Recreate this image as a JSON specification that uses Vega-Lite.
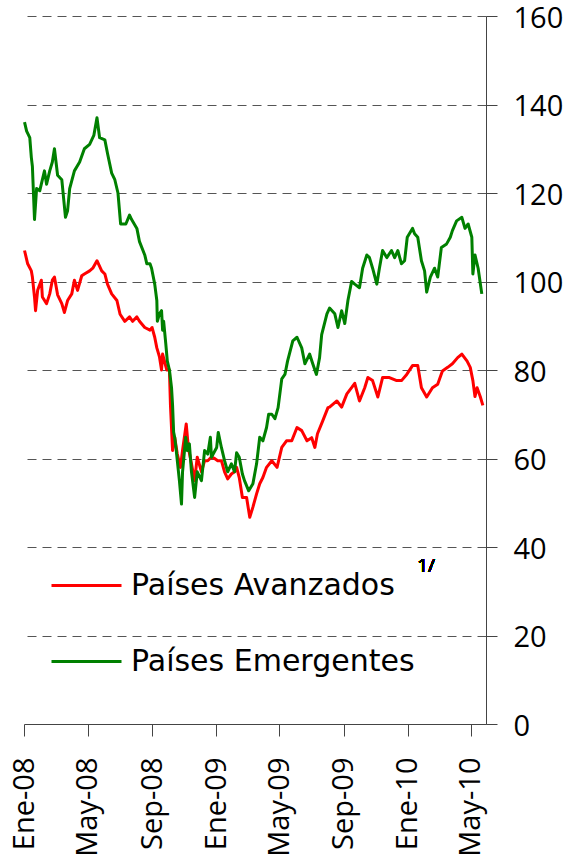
{
  "$schema": "https://vega.github.io/schema/vega-lite/v6.json",
  "autosize": "none",
  "width": 462,
  "height": 708,
  "padding": {"left": 24, "top": 16, "right": 84, "bottom": 139},
  "background": "white",
  "config": {"view": {"stroke": null}, "font": "Open Sans"},
  "data": {"values": [
    {"d":"2008-01-02","s":"Países Avanzados","v":107},
    {"d":"2008-01-08","s":"Países Avanzados","v":104},
    {"d":"2008-01-15","s":"Países Avanzados","v":102.4},
    {"d":"2008-01-17","s":"Países Avanzados","v":101},
    {"d":"2008-01-21","s":"Países Avanzados","v":96.5},
    {"d":"2008-01-23","s":"Países Avanzados","v":93.4},
    {"d":"2008-01-27","s":"Países Avanzados","v":98},
    {"d":"2008-02-03","s":"Países Avanzados","v":100.3},
    {"d":"2008-02-05","s":"Países Avanzados","v":96.5},
    {"d":"2008-02-13","s":"Países Avanzados","v":95},
    {"d":"2008-02-19","s":"Países Avanzados","v":97.2},
    {"d":"2008-02-24","s":"Países Avanzados","v":100.3},
    {"d":"2008-02-28","s":"Países Avanzados","v":101},
    {"d":"2008-03-05","s":"Países Avanzados","v":97},
    {"d":"2008-03-13","s":"Países Avanzados","v":95},
    {"d":"2008-03-18","s":"Países Avanzados","v":93},
    {"d":"2008-03-24","s":"Países Avanzados","v":95.7},
    {"d":"2008-04-01","s":"Países Avanzados","v":97.2},
    {"d":"2008-04-06","s":"Países Avanzados","v":100.3},
    {"d":"2008-04-12","s":"Países Avanzados","v":98},
    {"d":"2008-04-20","s":"Países Avanzados","v":101.3},
    {"d":"2008-04-25","s":"Países Avanzados","v":101.7},
    {"d":"2008-05-05","s":"Países Avanzados","v":102.4},
    {"d":"2008-05-11","s":"Países Avanzados","v":103},
    {"d":"2008-05-19","s":"Países Avanzados","v":104.7},
    {"d":"2008-05-28","s":"Países Avanzados","v":102.4},
    {"d":"2008-06-03","s":"Países Avanzados","v":101.7},
    {"d":"2008-06-08","s":"Países Avanzados","v":99.4},
    {"d":"2008-06-16","s":"Países Avanzados","v":97.2},
    {"d":"2008-06-26","s":"Países Avanzados","v":95.7},
    {"d":"2008-07-02","s":"Países Avanzados","v":92.6},
    {"d":"2008-07-11","s":"Países Avanzados","v":91},
    {"d":"2008-07-20","s":"Países Avanzados","v":92},
    {"d":"2008-07-26","s":"Países Avanzados","v":91},
    {"d":"2008-08-03","s":"Países Avanzados","v":92},
    {"d":"2008-08-08","s":"Países Avanzados","v":91},
    {"d":"2008-08-18","s":"Países Avanzados","v":89.6},
    {"d":"2008-08-28","s":"Países Avanzados","v":89},
    {"d":"2008-09-01","s":"Países Avanzados","v":89.6},
    {"d":"2008-09-06","s":"Países Avanzados","v":87.4},
    {"d":"2008-09-10","s":"Países Avanzados","v":85},
    {"d":"2008-09-15","s":"Países Avanzados","v":83},
    {"d":"2008-09-19","s":"Países Avanzados","v":80},
    {"d":"2008-09-21","s":"Países Avanzados","v":83.6},
    {"d":"2008-09-29","s":"Países Avanzados","v":80},
    {"d":"2008-10-04","s":"Países Avanzados","v":80},
    {"d":"2008-10-06","s":"Países Avanzados","v":72},
    {"d":"2008-10-10","s":"Países Avanzados","v":61.8},
    {"d":"2008-10-14","s":"Países Avanzados","v":64.8},
    {"d":"2008-10-19","s":"Países Avanzados","v":61},
    {"d":"2008-10-25","s":"Países Avanzados","v":58},
    {"d":"2008-10-29","s":"Países Avanzados","v":61.8},
    {"d":"2008-11-05","s":"Países Avanzados","v":67.8},
    {"d":"2008-11-09","s":"Países Avanzados","v":62.5},
    {"d":"2008-11-15","s":"Países Avanzados","v":58.8},
    {"d":"2008-11-21","s":"Países Avanzados","v":55},
    {"d":"2008-11-26","s":"Países Avanzados","v":60.3},
    {"d":"2008-12-04","s":"Países Avanzados","v":57},
    {"d":"2008-12-10","s":"Países Avanzados","v":59.5},
    {"d":"2008-12-16","s":"Países Avanzados","v":59.5},
    {"d":"2008-12-23","s":"Países Avanzados","v":60.3},
    {"d":"2008-12-29","s":"Países Avanzados","v":60},
    {"d":"2009-01-04","s":"Países Avanzados","v":59.5},
    {"d":"2009-01-11","s":"Países Avanzados","v":59.5},
    {"d":"2009-01-17","s":"Países Avanzados","v":57},
    {"d":"2009-01-23","s":"Países Avanzados","v":55.4},
    {"d":"2009-01-30","s":"Países Avanzados","v":56.5},
    {"d":"2009-02-05","s":"Países Avanzados","v":57},
    {"d":"2009-02-09","s":"Países Avanzados","v":58},
    {"d":"2009-02-14","s":"Países Avanzados","v":55.7},
    {"d":"2009-02-20","s":"Países Avanzados","v":51.2},
    {"d":"2009-02-28","s":"Países Avanzados","v":51.2},
    {"d":"2009-03-06","s":"Países Avanzados","v":46.7},
    {"d":"2009-03-12","s":"Países Avanzados","v":49},
    {"d":"2009-03-19","s":"Países Avanzados","v":52},
    {"d":"2009-03-25","s":"Países Avanzados","v":54.3},
    {"d":"2009-03-31","s":"Países Avanzados","v":55.7},
    {"d":"2009-04-07","s":"Países Avanzados","v":58},
    {"d":"2009-04-17","s":"Países Avanzados","v":59.5},
    {"d":"2009-04-27","s":"Países Avanzados","v":58},
    {"d":"2009-05-06","s":"Países Avanzados","v":62.5},
    {"d":"2009-05-15","s":"Países Avanzados","v":64},
    {"d":"2009-05-25","s":"Países Avanzados","v":64},
    {"d":"2009-06-04","s":"Países Avanzados","v":67},
    {"d":"2009-06-13","s":"Países Avanzados","v":66.3},
    {"d":"2009-06-23","s":"Países Avanzados","v":64},
    {"d":"2009-07-02","s":"Países Avanzados","v":64.7},
    {"d":"2009-07-08","s":"Países Avanzados","v":62.5},
    {"d":"2009-07-13","s":"Países Avanzados","v":65.6},
    {"d":"2009-07-23","s":"Países Avanzados","v":68.5},
    {"d":"2009-08-02","s":"Países Avanzados","v":71.5},
    {"d":"2009-08-05","s":"Países Avanzados","v":71.6},
    {"d":"2009-08-19","s":"Países Avanzados","v":73},
    {"d":"2009-08-28","s":"Países Avanzados","v":71.6},
    {"d":"2009-09-07","s":"Países Avanzados","v":74.6},
    {"d":"2009-09-16","s":"Países Avanzados","v":76},
    {"d":"2009-09-22","s":"Países Avanzados","v":77},
    {"d":"2009-10-01","s":"Países Avanzados","v":73},
    {"d":"2009-10-11","s":"Países Avanzados","v":76},
    {"d":"2009-10-17","s":"Países Avanzados","v":78.3},
    {"d":"2009-10-26","s":"Países Avanzados","v":77.6},
    {"d":"2009-11-05","s":"Países Avanzados","v":73.9},
    {"d":"2009-11-14","s":"Países Avanzados","v":78.3},
    {"d":"2009-11-27","s":"Países Avanzados","v":78.3},
    {"d":"2009-12-11","s":"Países Avanzados","v":77.6},
    {"d":"2009-12-20","s":"Países Avanzados","v":77.6},
    {"d":"2009-12-30","s":"Países Avanzados","v":79},
    {"d":"2010-01-10","s":"Países Avanzados","v":81},
    {"d":"2010-01-20","s":"Países Avanzados","v":81},
    {"d":"2010-01-27","s":"Países Avanzados","v":76},
    {"d":"2010-02-06","s":"Países Avanzados","v":73.9},
    {"d":"2010-02-17","s":"Países Avanzados","v":76},
    {"d":"2010-02-27","s":"Países Avanzados","v":76.8},
    {"d":"2010-03-08","s":"Países Avanzados","v":79.8},
    {"d":"2010-03-18","s":"Países Avanzados","v":80.6},
    {"d":"2010-03-27","s":"Países Avanzados","v":81.4},
    {"d":"2010-04-06","s":"Países Avanzados","v":82.8},
    {"d":"2010-04-14","s":"Países Avanzados","v":83.6},
    {"d":"2010-04-24","s":"Países Avanzados","v":82},
    {"d":"2010-04-30","s":"Países Avanzados","v":80.6},
    {"d":"2010-05-05","s":"Países Avanzados","v":77.6},
    {"d":"2010-05-09","s":"Países Avanzados","v":74},
    {"d":"2010-05-13","s":"Países Avanzados","v":76},
    {"d":"2010-05-19","s":"Países Avanzados","v":74},
    {"d":"2010-05-24","s":"Países Avanzados","v":72},
    {"d":"2008-01-02","s":"Países Emergentes","v":136},
    {"d":"2008-01-06","s":"Países Emergentes","v":134},
    {"d":"2008-01-12","s":"Países Emergentes","v":132.5},
    {"d":"2008-01-15","s":"Países Emergentes","v":128},
    {"d":"2008-01-17","s":"Países Emergentes","v":126},
    {"d":"2008-01-21","s":"Países Emergentes","v":114},
    {"d":"2008-01-25","s":"Países Emergentes","v":121},
    {"d":"2008-01-31","s":"Países Emergentes","v":120.5},
    {"d":"2008-02-03","s":"Países Emergentes","v":122},
    {"d":"2008-02-09","s":"Países Emergentes","v":125},
    {"d":"2008-02-13","s":"Países Emergentes","v":122},
    {"d":"2008-02-19","s":"Países Emergentes","v":125},
    {"d":"2008-02-24","s":"Países Emergentes","v":127},
    {"d":"2008-02-28","s":"Países Emergentes","v":130},
    {"d":"2008-03-05","s":"Países Emergentes","v":124},
    {"d":"2008-03-13","s":"Países Emergentes","v":123},
    {"d":"2008-03-20","s":"Países Emergentes","v":114.5},
    {"d":"2008-03-24","s":"Países Emergentes","v":116},
    {"d":"2008-03-28","s":"Países Emergentes","v":121},
    {"d":"2008-04-06","s":"Países Emergentes","v":125},
    {"d":"2008-04-16","s":"Países Emergentes","v":127},
    {"d":"2008-04-25","s":"Países Emergentes","v":130},
    {"d":"2008-05-05","s":"Países Emergentes","v":131},
    {"d":"2008-05-13","s":"Países Emergentes","v":133},
    {"d":"2008-05-19","s":"Países Emergentes","v":137},
    {"d":"2008-05-24","s":"Países Emergentes","v":132.5},
    {"d":"2008-06-03","s":"Países Emergentes","v":132},
    {"d":"2008-06-08","s":"Países Emergentes","v":129},
    {"d":"2008-06-16","s":"Países Emergentes","v":124.5},
    {"d":"2008-06-22","s":"Países Emergentes","v":123},
    {"d":"2008-06-28","s":"Países Emergentes","v":120},
    {"d":"2008-07-03","s":"Países Emergentes","v":113},
    {"d":"2008-07-13","s":"Países Emergentes","v":113},
    {"d":"2008-07-20","s":"Países Emergentes","v":115},
    {"d":"2008-07-24","s":"Países Emergentes","v":114},
    {"d":"2008-08-03","s":"Países Emergentes","v":112},
    {"d":"2008-08-08","s":"Países Emergentes","v":109},
    {"d":"2008-08-18","s":"Países Emergentes","v":106},
    {"d":"2008-08-22","s":"Países Emergentes","v":104},
    {"d":"2008-08-28","s":"Países Emergentes","v":104},
    {"d":"2008-08-31","s":"Países Emergentes","v":103},
    {"d":"2008-09-06","s":"Países Emergentes","v":99.4},
    {"d":"2008-09-10","s":"Países Emergentes","v":95.7},
    {"d":"2008-09-11","s":"Países Emergentes","v":91},
    {"d":"2008-09-15","s":"Países Emergentes","v":92.7},
    {"d":"2008-09-19","s":"Países Emergentes","v":93.4},
    {"d":"2008-09-21","s":"Países Emergentes","v":89},
    {"d":"2008-09-23","s":"Países Emergentes","v":91},
    {"d":"2008-09-27","s":"Países Emergentes","v":86},
    {"d":"2008-09-30","s":"Países Emergentes","v":82},
    {"d":"2008-10-04","s":"Países Emergentes","v":80},
    {"d":"2008-10-08","s":"Países Emergentes","v":76},
    {"d":"2008-10-10","s":"Países Emergentes","v":72},
    {"d":"2008-10-12","s":"Países Emergentes","v":66},
    {"d":"2008-10-14","s":"Países Emergentes","v":64.8},
    {"d":"2008-10-17","s":"Países Emergentes","v":61.8},
    {"d":"2008-10-19","s":"Países Emergentes","v":59.5},
    {"d":"2008-10-23","s":"Países Emergentes","v":55},
    {"d":"2008-10-27","s":"Países Emergentes","v":49.7},
    {"d":"2008-10-29","s":"Países Emergentes","v":57},
    {"d":"2008-11-04","s":"Países Emergentes","v":64.8},
    {"d":"2008-11-07","s":"Países Emergentes","v":61.8},
    {"d":"2008-11-11","s":"Países Emergentes","v":63.3},
    {"d":"2008-11-15","s":"Países Emergentes","v":57},
    {"d":"2008-11-21","s":"Países Emergentes","v":51.2},
    {"d":"2008-11-26","s":"Países Emergentes","v":57},
    {"d":"2008-12-04","s":"Países Emergentes","v":55},
    {"d":"2008-12-10","s":"Países Emergentes","v":61.8},
    {"d":"2008-12-16","s":"Países Emergentes","v":61},
    {"d":"2008-12-21","s":"Países Emergentes","v":64.8},
    {"d":"2008-12-23","s":"Países Emergentes","v":60.3},
    {"d":"2009-01-02","s":"Países Emergentes","v":62.5},
    {"d":"2009-01-05","s":"Países Emergentes","v":65.9},
    {"d":"2009-01-11","s":"Países Emergentes","v":62.5},
    {"d":"2009-01-17","s":"Países Emergentes","v":59.5},
    {"d":"2009-01-23","s":"Países Emergentes","v":57},
    {"d":"2009-01-30","s":"Países Emergentes","v":58.8},
    {"d":"2009-02-05","s":"Países Emergentes","v":57},
    {"d":"2009-02-09","s":"Países Emergentes","v":61.3},
    {"d":"2009-02-14","s":"Países Emergentes","v":60.3},
    {"d":"2009-02-20","s":"Países Emergentes","v":56.5},
    {"d":"2009-02-24","s":"Países Emergentes","v":55},
    {"d":"2009-03-04","s":"Países Emergentes","v":52.7},
    {"d":"2009-03-12","s":"Países Emergentes","v":54.3},
    {"d":"2009-03-19","s":"Países Emergentes","v":58.8},
    {"d":"2009-03-25","s":"Países Emergentes","v":64.8},
    {"d":"2009-03-31","s":"Países Emergentes","v":64},
    {"d":"2009-04-07","s":"Países Emergentes","v":67},
    {"d":"2009-04-11","s":"Países Emergentes","v":70},
    {"d":"2009-04-17","s":"Países Emergentes","v":70},
    {"d":"2009-04-23","s":"Países Emergentes","v":69},
    {"d":"2009-04-29","s":"Países Emergentes","v":71.5},
    {"d":"2009-05-06","s":"Países Emergentes","v":78},
    {"d":"2009-05-12","s":"Países Emergentes","v":79},
    {"d":"2009-05-17","s":"Países Emergentes","v":82},
    {"d":"2009-05-27","s":"Países Emergentes","v":86.6},
    {"d":"2009-06-04","s":"Países Emergentes","v":87.4},
    {"d":"2009-06-13","s":"Países Emergentes","v":85},
    {"d":"2009-06-19","s":"Países Emergentes","v":81.4},
    {"d":"2009-06-28","s":"Países Emergentes","v":83.6},
    {"d":"2009-07-04","s":"Países Emergentes","v":81.4},
    {"d":"2009-07-11","s":"Países Emergentes","v":79},
    {"d":"2009-07-17","s":"Países Emergentes","v":82.8},
    {"d":"2009-07-21","s":"Países Emergentes","v":88},
    {"d":"2009-07-31","s":"Países Emergentes","v":92.7},
    {"d":"2009-08-05","s":"Países Emergentes","v":94},
    {"d":"2009-08-15","s":"Países Emergentes","v":92.7},
    {"d":"2009-08-21","s":"Países Emergentes","v":89.6},
    {"d":"2009-08-28","s":"Países Emergentes","v":93.4},
    {"d":"2009-09-03","s":"Países Emergentes","v":90.5},
    {"d":"2009-09-09","s":"Países Emergentes","v":95.7},
    {"d":"2009-09-16","s":"Países Emergentes","v":100},
    {"d":"2009-09-22","s":"Países Emergentes","v":99.4},
    {"d":"2009-10-01","s":"Países Emergentes","v":98.6},
    {"d":"2009-10-07","s":"Países Emergentes","v":103},
    {"d":"2009-10-15","s":"Países Emergentes","v":106},
    {"d":"2009-10-20","s":"Países Emergentes","v":105.4},
    {"d":"2009-10-26","s":"Países Emergentes","v":103},
    {"d":"2009-11-03","s":"Países Emergentes","v":99.4},
    {"d":"2009-11-08","s":"Países Emergentes","v":103},
    {"d":"2009-11-14","s":"Países Emergentes","v":107},
    {"d":"2009-11-22","s":"Países Emergentes","v":105.4},
    {"d":"2009-12-01","s":"Países Emergentes","v":107},
    {"d":"2009-12-07","s":"Países Emergentes","v":105.4},
    {"d":"2009-12-13","s":"Países Emergentes","v":107},
    {"d":"2009-12-20","s":"Países Emergentes","v":104},
    {"d":"2009-12-26","s":"Países Emergentes","v":104.7},
    {"d":"2009-12-31","s":"Países Emergentes","v":110},
    {"d":"2010-01-10","s":"Países Emergentes","v":112},
    {"d":"2010-01-14","s":"Países Emergentes","v":110.8},
    {"d":"2010-01-20","s":"Países Emergentes","v":110},
    {"d":"2010-01-27","s":"Países Emergentes","v":104.7},
    {"d":"2010-02-02","s":"Países Emergentes","v":102.4},
    {"d":"2010-02-06","s":"Países Emergentes","v":97.6},
    {"d":"2010-02-13","s":"Países Emergentes","v":101},
    {"d":"2010-02-21","s":"Países Emergentes","v":103},
    {"d":"2010-02-27","s":"Países Emergentes","v":101},
    {"d":"2010-03-06","s":"Países Emergentes","v":107.7},
    {"d":"2010-03-16","s":"Países Emergentes","v":108.5},
    {"d":"2010-03-23","s":"Países Emergentes","v":110},
    {"d":"2010-03-27","s":"Países Emergentes","v":111.5},
    {"d":"2010-04-04","s":"Países Emergentes","v":113.7},
    {"d":"2010-04-14","s":"Países Emergentes","v":114.5},
    {"d":"2010-04-20","s":"Países Emergentes","v":112},
    {"d":"2010-04-26","s":"Países Emergentes","v":113},
    {"d":"2010-05-03","s":"Países Emergentes","v":110},
    {"d":"2010-05-05","s":"Países Emergentes","v":101.7},
    {"d":"2010-05-09","s":"Países Emergentes","v":106},
    {"d":"2010-05-15","s":"Países Emergentes","v":103},
    {"d":"2010-05-22","s":"Países Emergentes","v":97.2}
  ]},
  "layer": [
    {
      "mark": {"type": "line", "strokeWidth": 3, "strokeJoin": "round"},
      "encoding": {
        "x": {
          "field": "d", "type": "temporal",
          "scale": {"type": "utc", "domain": [{"year": 2008, "month": 1, "date": 1, "utc": true}, {"year": 2010, "month": 5, "date": 30, "utc": true}]},
          "axis": {
            "title": null,
            "values": [
              {"year": 2008, "month": 1, "date": 1, "utc": true},
              {"year": 2008, "month": 5, "date": 1, "utc": true},
              {"year": 2008, "month": 9, "date": 1, "utc": true},
              {"year": 2009, "month": 1, "date": 1, "utc": true},
              {"year": 2009, "month": 5, "date": 1, "utc": true},
              {"year": 2009, "month": 9, "date": 1, "utc": true},
              {"year": 2010, "month": 1, "date": 1, "utc": true},
              {"year": 2010, "month": 5, "date": 1, "utc": true}
            ],
            "labelExpr": "['Ene','Feb','Mar','Abr','May','Jun','Jul','Ago','Sep','Oct','Nov','Dic'][utcmonth(datum.value)] + '-' + utcFormat(datum.value, '%y')",
            "labelAngle": -90,
            "labelAlign": "right",
            "labelBaseline": "middle",
            "labelFont": "Open Sans",
            "labelFontSize": 29,
            "labelColor": "#000000",
            "labelPadding": 21,
            "labelOverlap": false,
            "labelFlush": false,
            "tickSize": 12,
            "tickColor": "#444444",
            "domainColor": "#444444",
            "grid": false
          }
        },
        "y": {
          "field": "v", "type": "quantitative",
          "scale": {"domain": [0, 160], "nice": false, "zero": true},
          "axis": {
            "orient": "right",
            "title": null,
            "values": [0, 20, 40, 60, 80, 100, 120, 140, 160],
            "labelFont": "Open Sans",
            "labelFontSize": 29,
            "labelColor": "#000000",
            "labelPadding": 16,
            "labelAlign": "left",
            "labelOffset": 2,
            "labelFlush": false,
            "tickSize": 11,
            "tickColor": "#444444",
            "domainColor": "#444444",
            "grid": true,
            "gridColor": "#555555",
            "gridDash": [9, 6],
            "gridWidth": 1
          }
        },
        "color": {
          "field": "s", "type": "nominal",
          "scale": {"domain": ["Países Avanzados", "Países Emergentes"], "range": ["#ff0000", "#008000"]},
          "legend": {
            "orient": "none",
            "legendX": 26,
            "legendY": 533,
            "title": null,
            "padding": 0,
            "symbolType": "stroke",
            "symbolSize": 4900,
            "symbolStrokeWidth": 3,
            "rowPadding": 24,
            "labelOffset": 8,
            "labelFont": "DejaVu Sans",
            "labelFontSize": 30,
            "labelColor": "#000000",
            "labelLimit": 400
          }
        }
      }
    },
    {
      "mark": {"type": "text", "font": "Open Sans", "fontSize": 19, "align": "center", "baseline": "middle", "color": "#000000"},
      "encoding": {
        "x": {"datum": {"year": 2010, "month": 2, "date": 5, "utc": true}, "type": "temporal"},
        "y": {"datum": 35.8, "type": "quantitative"},
        "text": {"value": "1/"}
      }
    }
  ]
}
